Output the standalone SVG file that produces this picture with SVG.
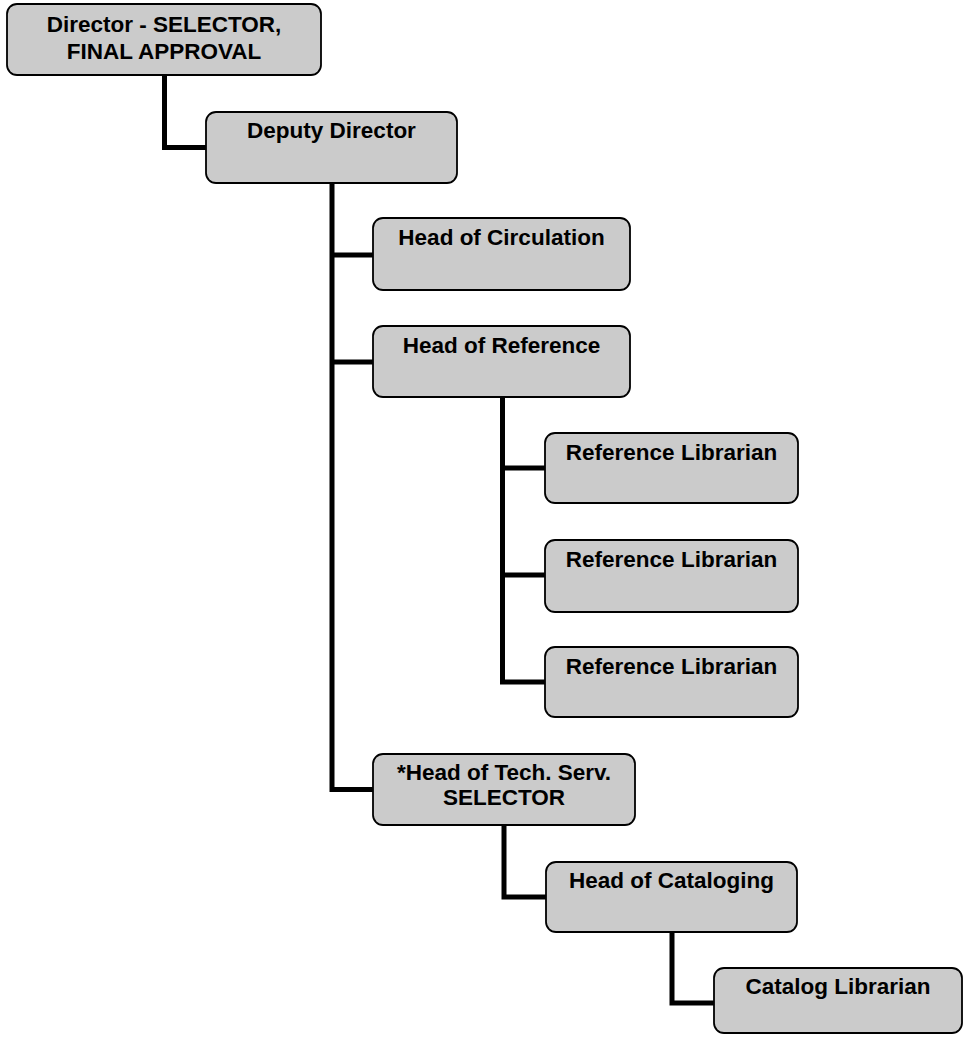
<svg xmlns="http://www.w3.org/2000/svg" width="963" height="1037" viewBox="0 0 963 1037">
<style>
.box{fill:#cbcbcb;stroke:#000;stroke-width:1.8}
.t{font-family:"Liberation Sans",Arial,sans-serif;font-weight:bold;font-size:22.5px;fill:#000;text-anchor:middle}
.c{fill:none;stroke:#000;stroke-width:5;stroke-linejoin:miter;stroke-linecap:butt}
</style>
<rect width="963" height="1037" fill="#fff"/>
<g id="connectors">
<path class="c" d="M164.5,75 V147.5 H206"/>
<path class="c" d="M332,183 V789.5 H373"/>
<path class="c" d="M332,255 H373"/>
<path class="c" d="M332,362 H373"/>
<path class="c" d="M502.5,397 V682 H545"/>
<path class="c" d="M502.5,468 H545"/>
<path class="c" d="M502.5,575 H545"/>
<path class="c" d="M504,825 V897 H546"/>
<path class="c" d="M672,932 V1003 H714"/>
</g>
<g id="director"><rect class="box" x="7" y="4" width="314" height="71" rx="10"/><text class="t" x="164" y="31.5">Director - SELECTOR,</text><text class="t" x="164" y="59">FINAL APPROVAL</text></g>
<g id="deputy"><rect class="box" x="206" y="112" width="251" height="71" rx="10"/><text class="t" x="331.5" y="137.5">Deputy Director</text></g>
<g id="circulation"><rect class="box" x="373" y="218" width="257" height="72" rx="10"/><text class="t" x="501.5" y="245">Head of Circulation</text></g>
<g id="reference"><rect class="box" x="373" y="326" width="257" height="71" rx="10"/><text class="t" x="501.5" y="353">Head of Reference</text></g>
<g id="reflib1"><rect class="box" x="545" y="433" width="253" height="70" rx="10"/><text class="t" x="671.5" y="459.5">Reference Librarian</text></g>
<g id="reflib2"><rect class="box" x="545" y="540" width="253" height="72" rx="10"/><text class="t" x="671.5" y="566.5">Reference Librarian</text></g>
<g id="reflib3"><rect class="box" x="545" y="647" width="253" height="70" rx="10"/><text class="t" x="671.5" y="673.5">Reference Librarian</text></g>
<g id="techserv"><rect class="box" x="373" y="754" width="262" height="71" rx="10"/><text class="t" x="504" y="780">*Head of Tech. Serv.</text><text class="t" x="504" y="805">SELECTOR</text></g>
<g id="cataloging"><rect class="box" x="546" y="862" width="251" height="70" rx="10"/><text class="t" x="671.5" y="887.5">Head of Cataloging</text></g>
<g id="catlib"><rect class="box" x="714" y="968" width="248" height="65" rx="10"/><text class="t" x="838" y="993.5">Catalog Librarian</text></g>
</svg>
